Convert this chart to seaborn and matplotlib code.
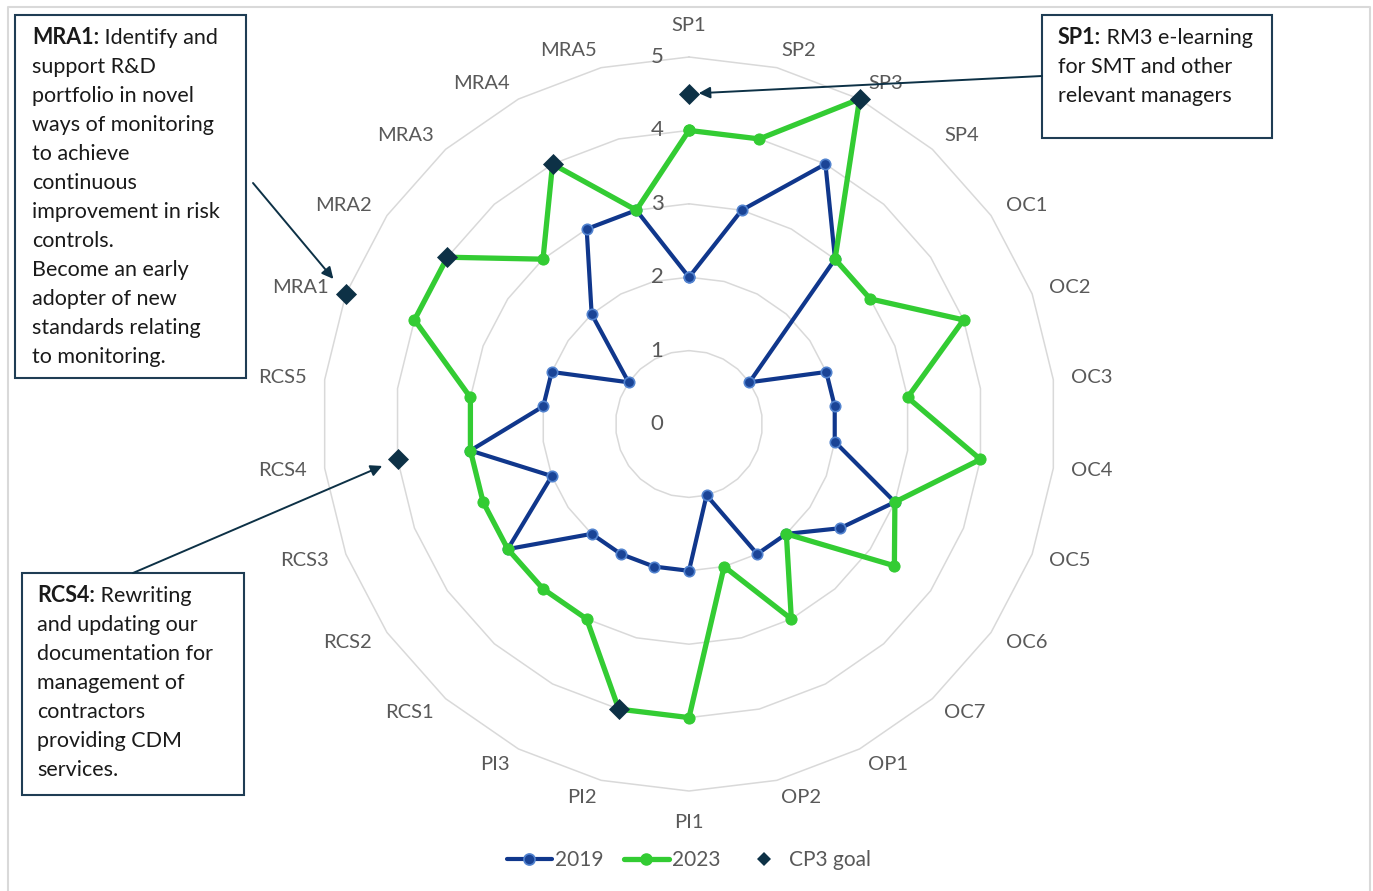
import numpy as np
import matplotlib
matplotlib.use("Agg")
import matplotlib.pyplot as plt
from matplotlib.lines import Line2D
from matplotlib.patches import Rectangle
import seaborn as sns

# ---- data -------------------------------------------------------------
categories = ["SP1", "SP2", "SP3", "SP4",
              "OC1", "OC2", "OC3", "OC4", "OC5", "OC6", "OC7",
              "OP1", "OP2",
              "PI1", "PI2", "PI3",
              "RCS1", "RCS2", "RCS3", "RCS4", "RCS5",
              "MRA1", "MRA2", "MRA3", "MRA4", "MRA5"]
scores_2019 = [2, 3, 4, 3, 1, 2, 2, 2, 3, 2.5, 2, 2, 1, 2, 2, 2, 2, 3, 2, 3, 2, 2, 1, 2, 3, 3]
scores_2023 = [4, 4, 5, 3, 3, 4, 3, 4, 3, 3.4, 2, 3, 2, 4, 4, 3, 3, 3, 3, 3, 3, 4, 4, 3, 4, 3]
nan = np.nan
cp3_goal = [4.5, nan, 5, nan, nan, nan, nan, nan, nan, nan, nan, nan, nan,
            nan, 4, nan, nan, nan, nan, 4, nan, 5, 4, nan, 4, nan]
radial_ticks = [0, 1, 2, 3, 4, 5]
series_labels = ["2019", "2023", "CP3 goal"]

notes = {
    "MRA1": ("MRA1:", [" Identify and", "support R&D", "portfolio in novel",
                       "ways of monitoring", "to achieve", "continuous",
                       "improvement in risk", "controls.", "Become an early",
                       "adopter of new", "standards relating", "to monitoring."]),
    "SP1": ("SP1:", [" RM3 e-learning", "for SMT and other", "relevant managers"]),
    "RCS4": ("RCS4:", [" Rewriting", "and updating our", "documentation for",
                       "management of", "contractors", "providing CDM", "services."]),
}

# ---- style ------------------------------------------------------------
sns.set_theme(style="white")
plt.rcParams["font.family"] = ["Lato", "DejaVu Sans"]

BLUE = "#10378C"
BLUE_FACE = "#1A4496"
BLUE_EDGE = "#5283CF"
GREEN = "#33CC33"
GOAL = "#0D3146"
GRID = "#D9D9D9"
LABEL = "#595959"
BOX = "#1F3D54"
TEXT = "#1A1A1A"

W, H = 1373, 891
fig = plt.figure(figsize=(W / 100, H / 100), dpi=100, facecolor="white")

# overlay in pixel coordinates for the frame and note boxes
ov = fig.add_axes([0, 0, 1, 1], zorder=0)
ov.set_xlim(0, W)
ov.set_ylim(H, 0)
ov.axis("off")
ov.patch.set_alpha(0)

# radar axes
cx, cy, rad = 689, 424, 367
ax = fig.add_axes([(cx - rad) / W, (H - cy - rad) / H, 2 * rad / W, 2 * rad / H],
                  projection="polar", zorder=1)
ax.patch.set_alpha(0)
ax.set_theta_offset(np.pi / 2)
ax.set_theta_direction(-1)
ax.set_ylim(0, max(radial_ticks))
ax.grid(False)
ax.spines["polar"].set_visible(False)
ax.set_xticks([])
ax.set_yticks([])

n = len(categories)
theta = np.linspace(0, 2 * np.pi, n, endpoint=False)
theta_closed = np.append(theta, 2 * np.pi)

# polygon gridlines
for v in radial_ticks[1:]:
    ax.plot(theta_closed, np.full(n + 1, v), color=GRID, lw=1.1, zorder=1,
            clip_on=False)

# radial value labels along the first spoke
for v in radial_ticks:
    ax.annotate(str(v), xy=(0, v), xytext=(-32, 0), textcoords="offset pixels",
                ha="center", va="center", fontsize=16, color=LABEL, zorder=2)

# category labels, anchored just outside the outer ring
label_r = max(radial_ticks) * 1.049
for t, c in zip(theta, categories):
    s, co = np.sin(t), np.cos(t)
    r = label_r
    if abs(s) < 1e-6:
        ha, va = "center", ("bottom" if co > 0 else "top")
        r = label_r * 1.012
    else:
        ha, va = ("left" if s > 0 else "right"), "center"
    ax.text(t, r, c, ha=ha, va=va, fontsize=14.5, color=LABEL)

# series
sns.lineplot(x=theta_closed, y=np.append(scores_2019, scores_2019[0]), ax=ax,
             sort=False, estimator=None, color=BLUE, lw=3, marker="o", ms=7.5,
             mfc=BLUE_FACE, mec=BLUE_EDGE, mew=1.2, zorder=3, clip_on=False)
sns.lineplot(x=theta_closed, y=np.append(scores_2023, scores_2023[0]), ax=ax,
             sort=False, estimator=None, color=GREEN, lw=3.8, marker="o", ms=8,
             mfc=GREEN, mec=GREEN, zorder=4, clip_on=False)
sns.scatterplot(x=theta, y=cp3_goal, ax=ax, marker="D", s=115, color=GOAL,
                linewidth=0, zorder=5, clip_on=False)
ax.set_xlabel("")
ax.set_ylabel("")
ax.set_ylim(0, max(radial_ticks))

# legend
handles = [
    Line2D([], [], color=BLUE, lw=3, marker="o", ms=8, mfc=BLUE_FACE, mec=BLUE_EDGE, mew=1.2),
    Line2D([], [], color=GREEN, lw=3.8, marker="o", ms=8, mfc=GREEN, mec=GREEN),
    Line2D([], [], ls="none", marker="D", ms=7, color=GOAL, mew=0),
]
fig.legend(handles, series_labels, loc="center", bbox_to_anchor=(cx / W, 31 / H),
           ncol=3, frameon=False, fontsize=15, handlelength=2.15, handletextpad=0.15,
           columnspacing=1.0, labelcolor=LABEL)

# chart frame
ov.plot([8, 8, 1370, 1370], [H + 5, 7, 7, H + 5], color=GRID, lw=1.5, clip_on=False)

# note boxes
boxes = {
    "MRA1": ((15, 15, 231, 363), (32, 38), (253, 183), 14),
    "SP1": ((1042, 15, 230, 123), (1058, 38), (1042, 76), 7),
    "RCS4": ((22, 573, 222, 222), (37, 596), (133, 573), 12),
}
for key, ((bx, by, bw, bh), (tx, ty), (ax0, ay0), shrink) in boxes.items():
    ov.add_patch(Rectangle((bx, by), bw, bh, fill=False, ec=BOX, lw=1.5))
    head, lines = notes[key]
    t_head = ov.text(tx, ty, head, fontsize=15.5, fontweight="bold", color=TEXT,
                     ha="left", va="center")
    ov.annotate(lines[0], xy=(1, 0), xycoords=t_head, ha="left", va="bottom",
                fontsize=15.5, color=TEXT)
    for k, line in enumerate(lines[1:], start=1):
        ov.text(tx, ty + 29 * k, line, fontsize=15.5, color=TEXT,
                ha="left", va="center")
    i = categories.index(key)
    ax.annotate("", xy=(theta[i], cp3_goal[i]), xycoords="data",
                xytext=(ax0, H - ay0), textcoords="figure pixels",
                arrowprops=dict(arrowstyle="-|>", color=GOAL, lw=1.4,
                                mutation_scale=17, shrinkA=0, shrinkB=shrink),
                annotation_clip=False, zorder=6)

fig.savefig("out.png", dpi=100, facecolor="white")
